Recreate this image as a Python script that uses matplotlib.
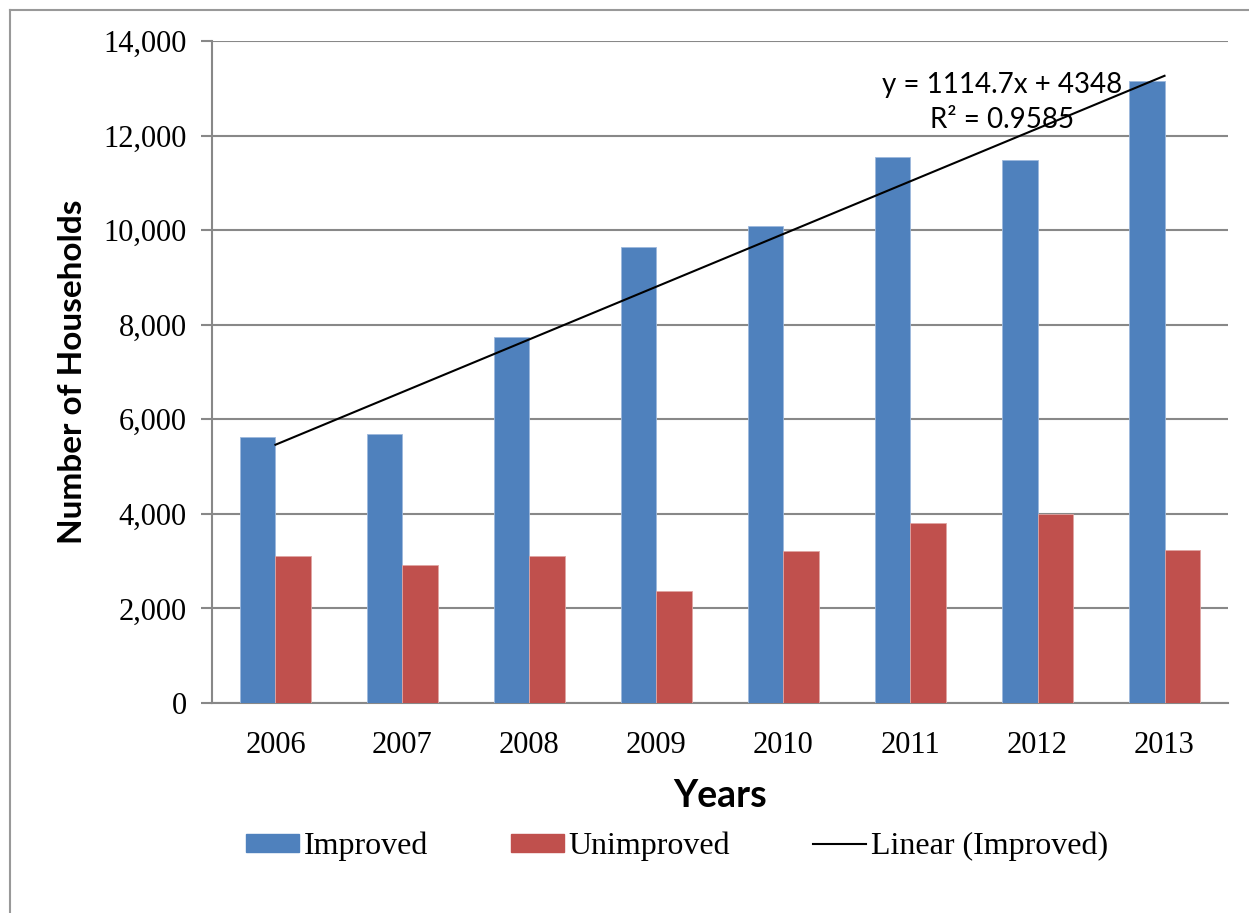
import numpy as np
import matplotlib.pyplot as plt
from matplotlib.patches import Patch
from matplotlib.lines import Line2D

years = ['2006', '2007', '2008', '2009', '2010', '2011', '2012', '2013']
improved = [5630, 5680, 7740, 9640, 10090, 11550, 11490, 13160]
unimproved = [3115, 2910, 3115, 2360, 3215, 3800, 4000, 3235]

# trendline from the chart label
slope = 1114.7
intercept = 4348

blue = '#4F81BD'
red = '#C0504D'
grid_c = '#888888'

fig = plt.figure(figsize=(12.49, 9.13), dpi=100)
ax = fig.add_axes([0.1697, 0.230, 0.8135, 0.725])

x = np.arange(len(years))
w = 0.283
ax.bar(x - w / 2, improved, w, color=blue, edgecolor='#9db8dc', linewidth=0.6, zorder=3)
ax.bar(x + w / 2, unimproved, w, color=red, edgecolor='#e0a5a3', linewidth=0.6, zorder=3)

xs = np.arange(1, len(years) + 1)
ax.plot(x, slope * xs + intercept, color='black', linewidth=1.5, zorder=4)

ax.set_xlim(-0.5, len(years) - 0.5)
ax.set_ylim(0, 14000)
ax.set_yticks(np.arange(0, 14001, 2000))
ax.set_yticklabels([f'{v:,}' for v in range(0, 14001, 2000)])
ax.set_xticks(x)
ax.set_xticklabels(years)

ax.grid(axis='y', color=grid_c, linewidth=1.5, zorder=0)
for s in ['top', 'right']:
    ax.spines[s].set_visible(False)
for s in ['left', 'bottom']:
    ax.spines[s].set_color(grid_c)
    ax.spines[s].set_linewidth(1.5)
ax.tick_params(axis='y', length=8, width=1.5, color=grid_c, pad=10)
ax.tick_params(axis='x', length=0, pad=20)
for lab in ax.get_xticklabels() + ax.get_yticklabels():
    lab.set_fontfamily('Liberation Serif')
    lab.set_fontsize(22)

ax.set_ylabel('Number of Households', fontfamily='Lato', fontweight='bold', fontsize=24, labelpad=12)
ax.set_xlabel('Years', fontfamily='Lato', fontweight='bold', fontsize=27, labelpad=14)

ax.text(5.72, 12700, 'y = 1114.7x + 4348\nR² = 0.9585', fontfamily='Lato', fontsize=20,
        ha='center', va='center', linespacing=1.45, zorder=5)

handles = [Patch(color=blue, label='Improved'),
           Patch(color=red, label='Unimproved'),
           Line2D([0], [0], color='black', linewidth=1.5, label='Linear (Improved)')]
fig.legend(handles=handles, loc='center', bbox_to_anchor=(0.542, 0.073), ncol=3, frameon=False,
           prop={'family': 'Liberation Serif', 'size': 23}, handlelength=1.65, handleheight=0.5,
           handletextpad=0.15, columnspacing=2.6)

# page border lines around the chart
fig.add_artist(Line2D([0.008, 1.0], [0.989, 0.989], color='#999999', linewidth=1.5, transform=fig.transFigure))
fig.add_artist(Line2D([0.008, 0.008], [0.0, 0.989], color='#999999', linewidth=1.5, transform=fig.transFigure))

fig.savefig('out.png', dpi=100)
